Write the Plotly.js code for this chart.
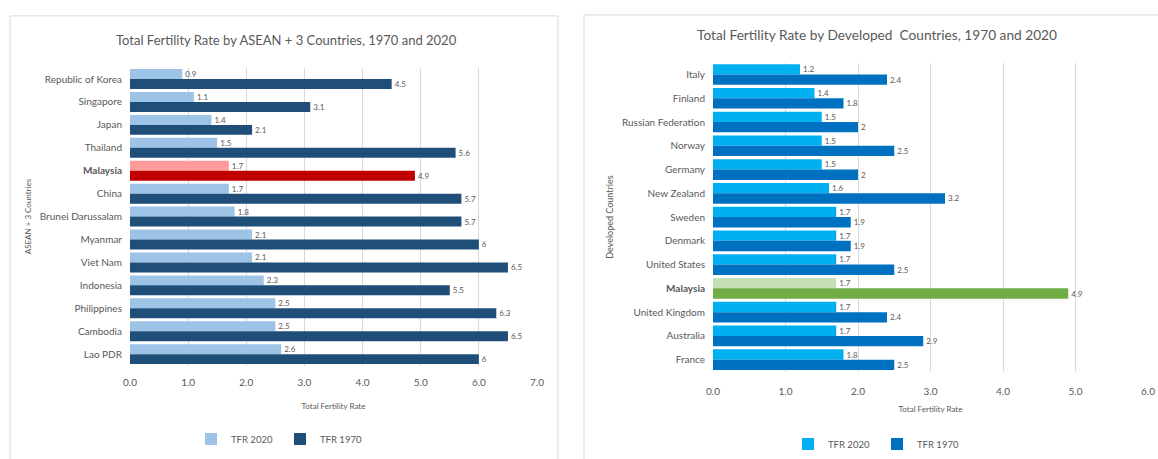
<!DOCTYPE html>
<html>
<head>
<meta charset="utf-8">
<script src="https://cdn.plot.ly/plotly-3.0.1.min.js"></script>
<style>html,body{margin:0;padding:0;background:#fff;}#chart{width:1158px;height:459px;}</style>
</head>
<body>
<div id="chart"></div>
<script>
// ---- Data: ASEAN + 3 ----
const aseanCountries = ["Republic of Korea","Singapore","Japan","Thailand","Malaysia","China","Brunei Darussalam","Myanmar","Viet Nam","Indonesia","Philippines","Cambodia","Lao PDR"];
const aseanTFR2020 = [0.9,1.1,1.4,1.5,1.7,1.7,1.8,2.1,2.1,2.3,2.5,2.5,2.6];
const aseanTFR1970 = [4.5,3.1,2.1,5.6,4.9,5.7,5.7,6,6.5,5.5,6.3,6.5,6];

// ---- Data: Developed ----
const devCountries = ["Italy","Finland","Russian Federation","Norway","Germany","New Zealand","Sweden","Denmark","United States","Malaysia","United Kingdom","Australia","France"];
const devTFR2020 = [1.2,1.4,1.5,1.5,1.5,1.6,1.7,1.7,1.7,1.7,1.7,1.7,1.8];
const devTFR1970 = [2.4,1.8,2,2.5,2,3.2,1.9,1.9,2.5,4.9,2.4,2.9,2.5];

const tickVals = [0,1,2,3,4,5,6,7];
const leftTickText = ["0.0","1.0","2.0","3.0","4.0","5.0","6.0","7.0"];
const rightTickVals = [0,1,2,3,4,5,6];
const rightTickText = ["0.0","1.0","2.0","3.0","4.0","5.0","6.0"];

const W = 1158, H = 459;
const px = x => x / W;
const py = y => 1 - y / H;
const FONT = "Lato, 'Open Sans', sans-serif";
const GRAY = "#595959";

function colors(cats, base, hi) { return cats.map(c => c === "Malaysia" ? hi : base); }
function labels(cats) { return cats.map(c => c === "Malaysia" ? "<b>Malaysia</b>" : c); }
function txt(vals) { return vals.map(v => String(v)); }

const common = {
  type: "bar", orientation: "h",
  textposition: "outside", constraintext: "none", cliponaxis: false,
  textfont: {family: FONT, size: 8, color: GRAY},
  hoverinfo: "x+y"
};

const traces = [
  Object.assign({}, common, {
    name: "TFR 2020", x: aseanTFR2020, y: aseanCountries, text: txt(aseanTFR2020),
    marker: {color: colors(aseanCountries, "#9DC3E6", "#FF9B9B")},
    xaxis: "x", yaxis: "y", legend: "legend"
  }),
  Object.assign({}, common, {
    name: "TFR 1970", x: aseanTFR1970, y: aseanCountries, text: txt(aseanTFR1970),
    marker: {color: colors(aseanCountries, "#1F4E79", "#C00000")},
    xaxis: "x", yaxis: "y", legend: "legend"
  }),
  Object.assign({}, common, {
    name: "TFR 2020", x: devTFR2020, y: devCountries, text: txt(devTFR2020),
    marker: {color: colors(devCountries, "#00B0F0", "#C5E0B4")},
    xaxis: "x2", yaxis: "y2", legend: "legend2"
  }),
  Object.assign({}, common, {
    name: "TFR 1970", x: devTFR1970, y: devCountries, text: txt(devTFR1970),
    marker: {color: colors(devCountries, "#0070C0", "#70AD47")},
    xaxis: "x2", yaxis: "y2", legend: "legend2"
  })
];

const xCommon = {
  showgrid: true, gridcolor: "#D9D9D9", gridwidth: 1, zeroline: false,
  showline: false, ticks: "", automargin: false,
  tickfont: {family: FONT, size: 10, color: GRAY},
  fixedrange: true
};
const yCommon = {
  type: "category", autorange: "reversed", showgrid: false, zeroline: false,
  showline: false, ticks: "", automargin: false,
  tickfont: {family: FONT, size: 10, color: GRAY},
  ticklabelstandoff: 7, fixedrange: true
};

const legendCommon = {
  orientation: "h", xanchor: "center", yanchor: "middle",
  font: {family: FONT, size: 9.5, color: GRAY}, bgcolor: "rgba(0,0,0,0)",
  itemwidth: 30, entrywidth: 44, tracegroupgap: 0
};

const layout = {
  width: W, height: H,
  margin: {l: 0, r: 0, t: 0, b: 0},
  paper_bgcolor: "#ffffff", plot_bgcolor: "#ffffff",
  font: {family: FONT, color: GRAY},
  barmode: "group", bargap: 0.13, bargroupgap: 0,
  showlegend: true,
  xaxis: Object.assign({}, xCommon, {
    domain: [px(130), px(537)], range: [0, 7], anchor: "y",
    tickvals: tickVals, ticktext: leftTickText, ticklabelstandoff: 9,
    title: {text: "Total Fertility Rate", font: {family: FONT, size: 8, color: GRAY}, standoff: 16}
  }),
  yaxis: Object.assign({}, yCommon, {
    domain: [py(368), py(68)], anchor: "x",
    tickvals: aseanCountries, ticktext: labels(aseanCountries),
    title: {text: "ASEAN + 3 Countries", font: {family: FONT, size: 8, color: GRAY}, standoff: 6}
  }),
  xaxis2: Object.assign({}, xCommon, {
    domain: [px(713), px(1148)], range: [0, 6], anchor: "y2",
    tickvals: rightTickVals, ticktext: rightTickText, ticklabelstandoff: 12,
    title: {text: "Total Fertility Rate", font: {family: FONT, size: 8, color: GRAY}, standoff: 10}
  }),
  yaxis2: Object.assign({}, yCommon, {
    domain: [py(374), py(63)], anchor: "x2",
    tickvals: devCountries, ticktext: labels(devCountries),
    title: {text: "Developed Countries", font: {family: FONT, size: 9, color: GRAY}, standoff: 6}
  }),
  legend: Object.assign({}, legendCommon, {x: px(280), y: py(442)}),
  legend2: Object.assign({}, legendCommon, {x: px(877), y: py(447)}),
  annotations: [
    {text: "Total Fertility Rate by ASEAN + 3 Countries, 1970 and 2020", xref: "paper", yref: "paper",
     x: px(286), y: py(40), xanchor: "center", yanchor: "middle", showarrow: false,
     font: {family: FONT, size: 13, color: GRAY}},
    {text: "Total Fertility Rate by Developed  Countries, 1970 and 2020", xref: "paper", yref: "paper",
     x: px(877), y: py(35), xanchor: "center", yanchor: "middle", showarrow: false,
     font: {family: FONT, size: 13.7, color: GRAY}}
  ],
  shapes: [
    {type: "rect", xref: "paper", yref: "paper", x0: px(10), x1: px(558), y0: py(470), y1: py(16),
     line: {color: "#D9D9D9", width: 1}, fillcolor: "rgba(0,0,0,0)", layer: "below"},
    {type: "rect", xref: "paper", yref: "paper", x0: px(584), x1: px(1170), y0: py(470), y1: py(15),
     line: {color: "#D9D9D9", width: 1}, fillcolor: "rgba(0,0,0,0)", layer: "below"}
  ]
};

Plotly.newPlot("chart", traces, layout, {displayModeBar: false, responsive: false});
</script>
</body>
</html>
